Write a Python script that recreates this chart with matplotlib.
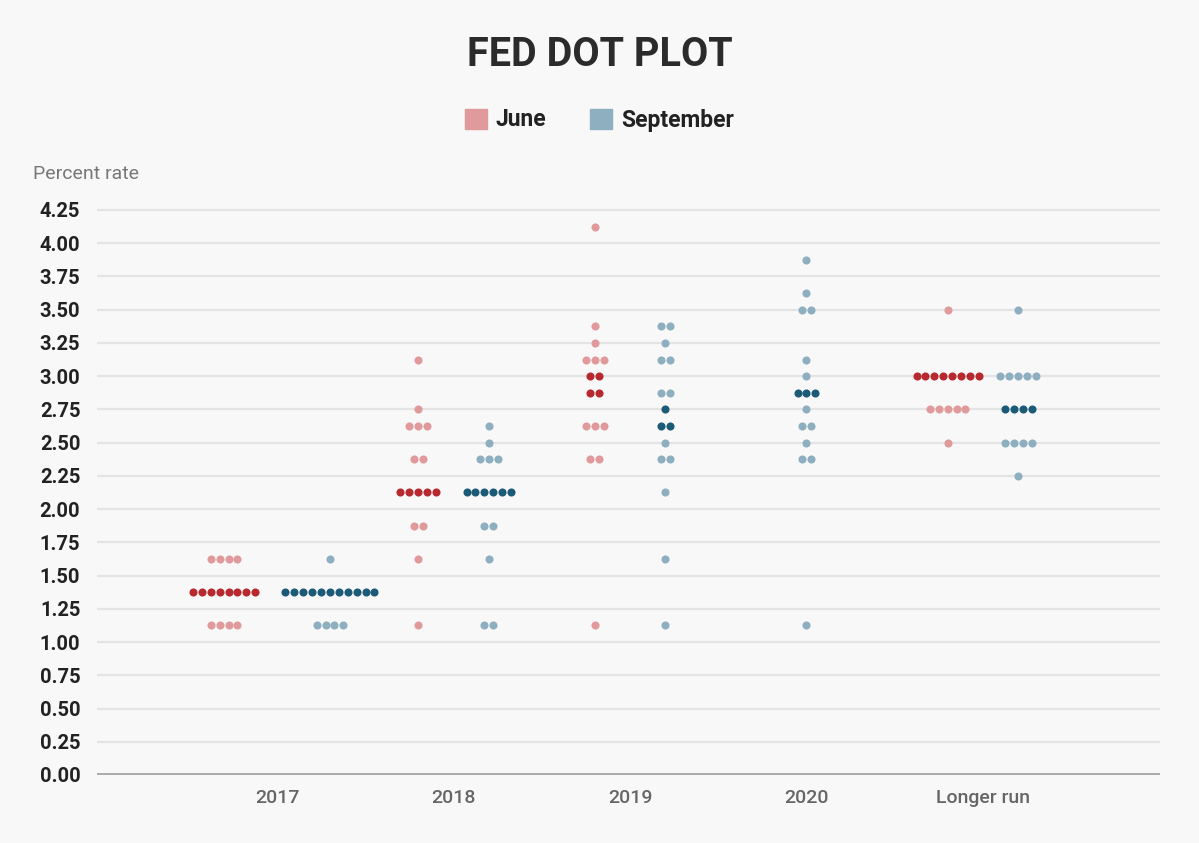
import numpy as np
import matplotlib.pyplot as plt
from matplotlib.patches import Patch

# data: rate -> number of dots
categories = ['2017', '2018', '2019', '2020', 'Longer run']

june = [
    {1.625: 4, 1.375: 8, 1.125: 4},
    {3.125: 1, 2.75: 1, 2.625: 3, 2.375: 2, 2.125: 5, 1.875: 2, 1.625: 1, 1.125: 1},
    {4.125: 1, 3.375: 1, 3.25: 1, 3.125: 3, 3.0: 2, 2.875: 2, 2.625: 3, 2.375: 2, 1.125: 1},
    {},
    {3.5: 1, 3.0: 8, 2.75: 5, 2.5: 1},
]
september = [
    {1.625: 1, 1.375: 11, 1.125: 4},
    {2.625: 1, 2.5: 1, 2.375: 3, 2.125: 6, 1.875: 2, 1.625: 1, 1.125: 2},
    {3.375: 2, 3.25: 1, 3.125: 2, 2.875: 2, 2.75: 1, 2.625: 2, 2.5: 1, 2.375: 2,
     2.125: 1, 1.625: 1, 1.125: 1},
    {3.875: 1, 3.625: 1, 3.5: 2, 3.125: 1, 3.0: 1, 2.875: 3, 2.75: 1, 2.625: 2,
     2.5: 1, 2.375: 2, 1.125: 1},
    {3.5: 1, 3.0: 5, 2.75: 4, 2.5: 4, 2.25: 1},
]

june_light, june_dark = '#e09a9b', '#b8292f'
sept_light, sept_dark = '#8eafc0', '#1b5b78'
bg = '#f8f8f8'

# horizontal offset of each series within a category
june_off = [-0.30, -0.20, -0.20, 0.0, -0.20]
sept_off = [0.30, 0.20, 0.20, 0.0, 0.20]
step = 0.0504


def median_rates(d):
    vals = sorted(v for r, n in d.items() for v in [r] * n)
    if not vals:
        return set()
    k = len(vals)
    return {vals[(k - 1) // 2], vals[k // 2]}


def draw(ax, series, offs, light, dark):
    for i, d in enumerate(series):
        med = median_rates(d)
        for rate, n in d.items():
            xs = i + offs[i] + (np.arange(n) - (n - 1) / 2) * step
            ax.scatter(xs, [rate] * n, s=34, color=dark if rate in med else light,
                       linewidths=0, zorder=3)


plt.rcParams['font.family'] = ['Roboto', 'DejaVu Sans']

fig = plt.figure(figsize=(11.99, 8.43), dpi=100, facecolor=bg)
# baseline sits at pixel row 775, 4.4 at row 190
ax = fig.add_axes([97 / 1199, 1 - 775 / 843, (1160 - 97) / 1199, (775 - 190) / 843])
ax.set_facecolor(bg)

draw(ax, june, june_off, june_light, june_dark)
draw(ax, september, sept_off, sept_light, sept_dark)

ax.set_xlim(-1.02, 5.003)
ax.set_ylim(0, 4.4)
yt = np.arange(0, 4.26, 0.25)
ax.set_yticks(yt)
ax.set_yticklabels([f'{v:.2f}' for v in yt], fontsize=14.5, fontweight='bold', color='#222222')
ax.set_xticks(range(len(categories)))
ax.set_xticklabels(categories, fontsize=14, fontweight='medium', color='#666666')
ax.tick_params(axis='y', length=0, pad=12)
ax.tick_params(axis='x', length=0, pad=10)
for v in yt[1:]:
    ax.axhline(v, color='#e4e4e4', lw=1.6, zorder=1)
ax.axhline(0, color='#aaaaaa', lw=2.8, zorder=2)
for s in ax.spines.values():
    s.set_visible(False)

fig.text(0.5, 1 - 55 / 843, 'FED DOT PLOT', ha='center', va='center',
         fontsize=28.5, fontweight='bold', color='#2b2b2b')
fig.text(33 / 1199, 1 - 174 / 843, 'Percent rate', ha='left', va='center',
         fontsize=14, color='#777777')

handles = [Patch(color=june_light, label='June'), Patch(color=sept_light, label='September')]
fig.legend(handles=handles, loc='center', bbox_to_anchor=(0.5, 1 - 120 / 843), ncol=2,
           frameon=False, handlelength=0.95, handleheight=0.95, handletextpad=0.4,
           columnspacing=1.9, prop={'family': 'Roboto', 'weight': 'bold', 'size': 16.5},
           labelcolor='#222222')

fig.savefig('out.png', dpi=100, facecolor=bg)
